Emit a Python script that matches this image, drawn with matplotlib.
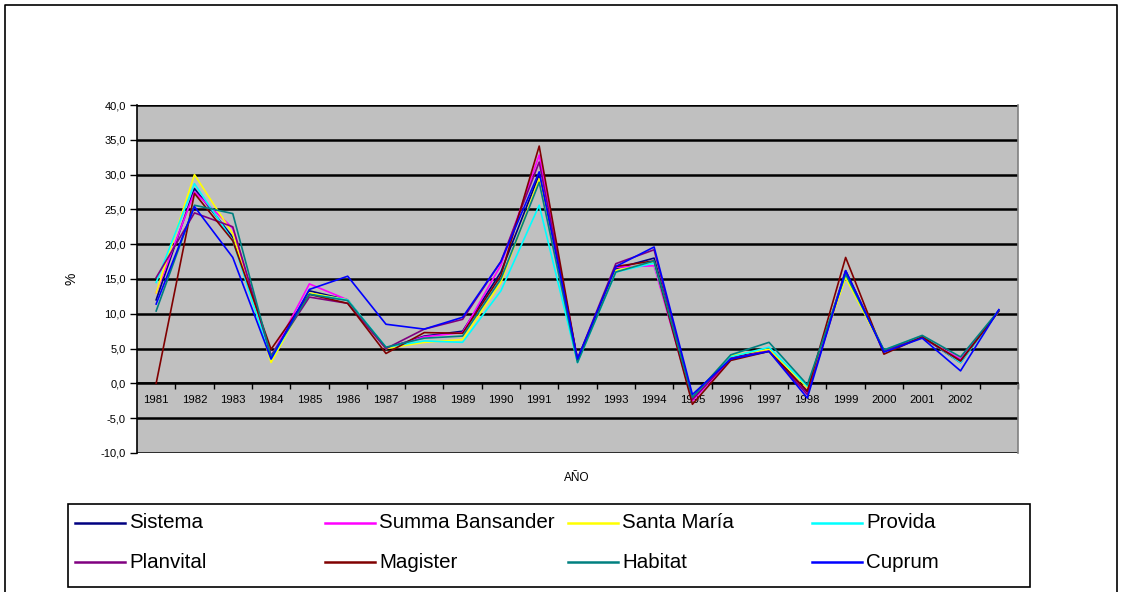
import matplotlib
matplotlib.use("Agg")
import matplotlib.pyplot as plt
from matplotlib.lines import Line2D
from matplotlib.patches import Rectangle
import numpy as np

# Category labels (the last category carries no label)
years = ["1981", "1982", "1983", "1984", "1985", "1986", "1987", "1988", "1989",
         "1990", "1991", "1992", "1993", "1994", "1995", "1996", "1997", "1998",
         "1999", "2000", "2001", "2002", ""]

sistema = [12.0, 28.0, 21.0, 3.8, 13.3, 12.0, 5.0, 6.8, 7.5, 16.0, 30.0, 3.5,
           16.5, 18.0, -2.0, 3.7, 4.8, -1.2, 16.2, 4.7, 6.7, 3.0, 10.5]
summa_bansander = [13.0, 27.5, 22.3, 3.8, 14.3, 12.0, 5.0, 6.7, 7.3, 17.0, 32.8, 3.3,
                   16.7, 16.9, -2.5, 3.5, 4.7, -1.6, 16.0, 4.7, 6.6, 3.5, 10.4]
santa_maria = [13.0, 30.0, 21.5, 3.0, 13.0, 12.0, 5.0, 5.9, 6.3, 14.5, 29.4, 3.2,
               16.2, 17.4, -2.0, 4.0, 4.9, -0.6, 15.2, 4.7, 6.7, 3.2, 10.4]
provida = [14.5, 28.7, 20.5, 3.5, 12.8, 12.0, 5.2, 6.1, 5.9, 13.3, 25.6, 3.0,
           16.0, 17.3, -2.0, 3.8, 5.2, -0.4, 15.7, 4.8, 6.8, 3.0, 10.4]
planvital = [15.2, 24.5, 22.5, 4.0, 12.4, 11.5, 5.0, 7.8, 9.2, 17.5, 31.8, 3.5,
             17.2, 19.2, -2.3, 3.6, 4.6, -1.6, 16.0, 4.7, 6.6, 3.3, 10.4]
magister = [0.0, 27.3, 20.5, 4.9, 12.8, 11.5, 4.3, 7.3, 7.2, 15.5, 34.1, 3.3,
            16.8, 17.6, -3.0, 3.3, 4.6, -1.1, 18.1, 4.2, 6.7, 3.2, 10.4]
habitat = [10.4, 25.6, 24.4, 3.8, 12.8, 11.9, 5.2, 6.5, 6.8, 15.0, 28.9, 3.0,
           16.0, 17.6, -2.0, 4.1, 5.9, -0.2, 15.7, 4.8, 6.9, 3.8, 10.5]
cuprum = [11.4, 25.4, 18.1, 3.5, 13.5, 15.4, 8.5, 7.8, 9.5, 17.5, 30.4, 3.5,
          16.8, 19.6, -1.6, 3.5, 4.6, -2.1, 16.2, 4.5, 6.5, 1.8, 10.6]

series_names = ["Sistema", "Summa Bansander", "Santa María", "Provida",
                "Planvital", "Magister", "Habitat", "Cuprum"]
series_values = [sistema, summa_bansander, santa_maria, provida,
                 planvital, magister, habitat, cuprum]
series_colors = ["#000080", "#FF00FF", "#FFFF00", "#00FFFF",
                 "#800080", "#800000", "#008080", "#0000FF"]

yticks = np.arange(-10, 41, 5)

plt.rcParams["font.family"] = ["Liberation Sans", "DejaVu Sans"]

W, H = 1121, 592
fig = plt.figure(figsize=(W / 100, H / 100), dpi=100)
fig.patch.set_facecolor("white")

ax = fig.add_axes([137 / W, 1 - 453 / H, (1018 - 137) / W, (453 - 105) / H])
ax.set_facecolor("#C0C0C0")

x = np.arange(len(years))
for name, vals, col in zip(series_names, series_values, series_colors):
    ax.plot(x, vals, color=col, lw=1.2, label=name, zorder=3)

ax.set_xlim(-0.5, len(years) - 0.5)
ax.set_ylim(-10, 40)

# horizontal gridlines
ax.set_yticks(yticks)
ax.set_yticklabels([f"{v:.1f}".replace(".", ",") for v in yticks], fontsize=8)
ax.yaxis.grid(True, color="black", lw=1.8, zorder=1)
ax.set_axisbelow(True)
ax.tick_params(axis="y", direction="out", length=5, width=1, pad=3)

# category axis crossing at zero: boundary ticks, centred labels
ax.spines["bottom"].set_position(("data", 0))
ax.spines["bottom"].set_linewidth(1.2)
ax.set_xticks(np.arange(0.5, len(years) - 0.4, 1.0))
ax.set_xticklabels([])
ax.set_xticks(x, minor=True)
ax.set_xticklabels(years, minor=True, fontsize=8.2)
ax.tick_params(axis="x", which="major", direction="out", length=4, width=1)
ax.tick_params(axis="x", which="minor", length=0, pad=8)

ax.spines["left"].set_linewidth(1.2)
ax.spines["top"].set_visible(False)
ax.spines["right"].set_color("#808080")
ax.spines["right"].set_linewidth(1.2)

ax.set_ylabel("%", fontsize=10, labelpad=16)
fig.text(577 / W, 1 - 478 / H, "AÑO", fontsize=8.5, ha="center", va="center")

# legend box drawn in figure pixels
fig.add_artist(Rectangle((68 / W, 1 - 587 / H), (1030 - 68) / W, (587 - 504) / H,
                         transform=fig.transFigure, fill=False,
                         edgecolor="black", lw=1.2))
col_x = [75, 325, 568, 812]
row_y = [523, 562]
for i, (name, col) in enumerate(zip(series_names, series_colors)):
    cx = col_x[i % 4]
    cy = row_y[i // 4]
    fig.add_artist(Line2D([cx / W, (cx + 50) / W], [1 - cy / H, 1 - cy / H],
                          transform=fig.transFigure, color=col, lw=1.8))
    fig.text((cx + 54) / W, 1 - cy / H, name, fontsize=14.8,
             ha="left", va="center")

# outer chart border
fig.add_artist(Line2D([5 / W, 5 / W, 1117 / W, 1117 / W],
                      [0, 1 - 5 / H, 1 - 5 / H, 0],
                      transform=fig.transFigure, color="black", lw=1.2))

fig.savefig("out.png", dpi=100, facecolor="white")
